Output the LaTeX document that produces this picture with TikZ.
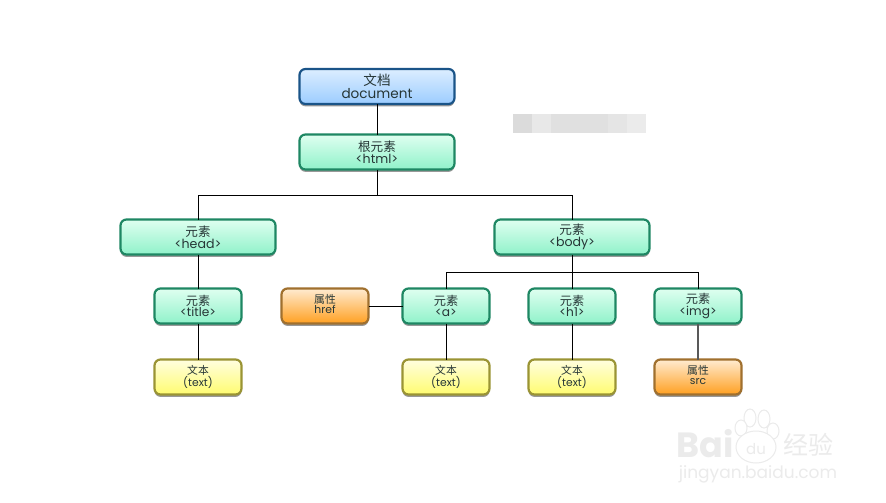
\documentclass[tikz,border=0pt]{standalone}
\usepackage{fontspec}
\setmainfont{Poppins}[Scale=1.0]
\newfontfamily\cjk{Noto Sans CJK SC}
\usetikzlibrary{shadows}
\definecolor{bluetop}{HTML}{DCEEFF}\definecolor{bluebot}{HTML}{9CCCFF}\definecolor{blueline}{HTML}{1A5488}
\definecolor{greentop}{HTML}{DFFFF0}\definecolor{greenbot}{HTML}{90F2CA}\definecolor{greenline}{HTML}{1E8763}
\definecolor{yellowtop}{HTML}{FFFEE0}\definecolor{yellowbot}{HTML}{FFFC70}\definecolor{yellowline}{HTML}{9A9434}
\definecolor{orangetop}{HTML}{FFEBD0}\definecolor{orangebot}{HTML}{FFA022}\definecolor{orangeline}{HTML}{A0702E}
\definecolor{txt}{HTML}{263636}\definecolor{wm}{HTML}{EBEBEB}
\tikzset{
 box/.style={rounded corners=6pt,line width=2.2pt,align=center,inner sep=0pt,outer sep=0pt,text=txt,
   drop shadow={shadow xshift=0pt,shadow yshift=-2.4pt,fill=black,opacity=.4}},
 wide/.style={box,minimum width=155pt,minimum height=35pt,font=\fontsize{12.6}{12}\selectfont},
 narrow/.style={box,minimum width=87pt,minimum height=35pt,font=\fontsize{12.2}{11.5}\selectfont},
 leaf/.style={box,minimum width=87pt,minimum height=35pt,font=\fontsize{10.8}{10.5}\selectfont},
 bluebox/.style={draw=blueline,top color=bluetop,bottom color=bluebot},
 greenbox/.style={draw=greenline,top color=greentop,bottom color=greenbot},
 yellowbox/.style={draw=yellowline,top color=yellowtop,bottom color=yellowbot},
 orangebox/.style={draw=orangeline,top color=orangetop,bottom color=orangebot},
 link/.style={draw=black,line width=.9pt},
 softlink/.style={draw=black!65,line width=1.3pt},
 paw/.style={draw=wm,line width=1pt,fill=white},
 wmtext/.style={text=wm,inner sep=0pt},
 mosaic/.style={fill=#1,draw=none}
}
\begin{document}
\begin{tikzpicture}[x=1pt,y=-1pt]
\useasboundingbox[fill=white] (0,0) rectangle (886,503);
% blurred patch
\fill[mosaic=black!14] (513,114) rectangle (532,133);
\fill[mosaic=black!9] (532,114) rectangle (551,133);
\fill[mosaic=black!12] (551,114) rectangle (608,133);
\fill[mosaic=black!10] (608,114) rectangle (627,133);
\fill[mosaic=black!8] (627,114) rectangle (646,133);
% nodes
\node[wide,bluebox,font=\fontsize{13.6}{13.5}\selectfont] (doc) at (377,86.5) {{\cjk 文档}\\document};
\node[wide,greenbox] (html) at (377,152) {{\cjk 根元素}\\<html>};
\node[wide,greenbox] (head) at (198,237) {{\cjk 元素}\\<head>};
\node[wide,greenbox] (body) at (572,237) {{\cjk 元素}\\<body>};
\node[narrow,greenbox] (title) at (198,306) {{\cjk 元素}\\<title>};
\node[leaf,orangebox] (href) at (325,306) {{\cjk 属性}\\href\\[-6.5pt]\mbox{}};
\node[narrow,greenbox] (a) at (446,306) {{\cjk 元素}\\<a>};
\node[narrow,greenbox] (h1) at (572,306) {{\cjk 元素}\\<h1>};
\node[narrow,greenbox] (img) at (698,306) {{\cjk 元素}\\<img>};
\node[leaf,yellowbox] (t1) at (198,377) {{\cjk 文本}\\(text)\\[-8pt]\mbox{}};
\node[leaf,yellowbox] (t2) at (446,377) {{\cjk 文本}\\(text)\\[-8pt]\mbox{}};
\node[leaf,yellowbox] (t3) at (572,377) {{\cjk 文本}\\(text)\\[-8pt]\mbox{}};
\node[leaf,orangebox] (src) at (698,377) {{\cjk 属性}\\src\\[-6.5pt]\mbox{}};
% junctions
\coordinate (bus1) at (377,195.5);
\coordinate (bus2) at (572,272.5);
% connectors
\draw[link] (doc.south) -- (html.north);
\draw[link] (html.south) -- (bus1);
\draw[link] (head.north) |- (bus1);
\draw[link] (body.north) |- (bus1);
\draw[link] (head.south) -- (title.north);
\draw[link] (title.south) -- (t1.north);
\draw[link] (body.south) -- (h1.north);
\draw[link] (a.north) |- (bus2);
\draw[link] (img.north) |- (bus2);
\draw[link] (href.east) -- (a.west);
\draw[link] (a.south) -- (t2.north);
\draw[link] (h1.south) -- (t3.north);
\draw[softlink] (img.south) -- (src.north);
% watermark
\draw[paw] (750,418) ellipse [x radius=6,y radius=9];
\draw[paw] (764,419) ellipse [x radius=6,y radius=9];
\draw[paw] (741,428) ellipse [x radius=6,y radius=8];
\draw[paw] (773,431) ellipse [x radius=6,y radius=8];
\draw[paw] (756,447) ellipse [x radius=20,y radius=16];
\node[wmtext,font=\fontsize{35}{35}\selectfont\bfseries] (wmb) at (705,444) {Bai};
\node[wmtext,font=\fontsize{15}{15}\selectfont] (wmd) at (756,449) {du};
\node[wmtext,font=\fontsize{25}{25}\selectfont\cjk] (wmj) at (808,445) {经验};
\node[wmtext,font=\fontsize{17}{17}\selectfont] (wmu) at (758,474) {jingyan.baidu.com};
\end{tikzpicture}
\end{document}
